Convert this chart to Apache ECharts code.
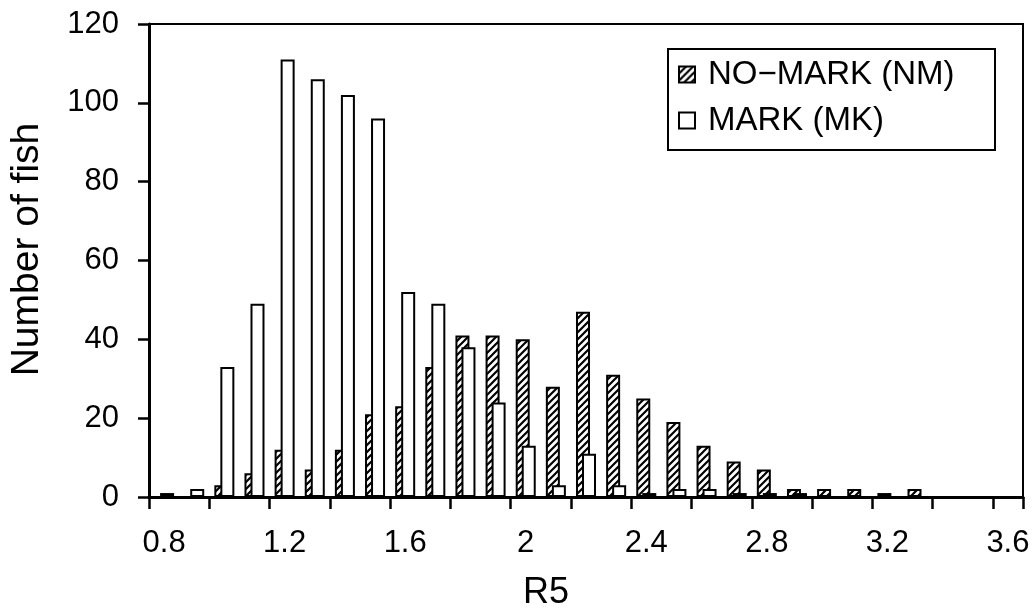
<!DOCTYPE html>
<html>
<head>
<meta charset="utf-8">
<script src="https://cdn.jsdelivr.net/npm/echarts@6/dist/echarts.min.js"></script>
<style>
html,body{margin:0;padding:0;background:#fff;}
#chart{width:1036px;height:616px;}
</style>
</head>
<body>
<div id="chart"></div>
<script>
// Bin labels (R5, bin width 0.1)
const categories = ['0.8','0.9','1','1.1','1.2','1.3','1.4','1.5','1.6','1.7','1.8','1.9','2','2.1','2.2','2.3','2.4','2.5','2.6','2.7','2.8','2.9','3','3.1','3.2','3.3','3.4','3.5','3.6'];
// NO-MARK (NM) counts
const nmValues = [0,0,3,6,12,7,12,21,23,33,41,41,40,28,47,31,25,19,13,9,7,2,2,2,1,2,0,0,0];
// MARK (MK) counts
const mkValues = [1,2,33,49,111,106,102,96,52,49,38,24,13,3,11,3,1,2,2,1,1,1,0,0,0,0,0,0,0];
const yTicks = [0,20,40,60,80,100,120];

const FONT = "'Liberation Sans', Arial, sans-serif";

// diagonal hatch pattern
const tile = document.createElement('canvas');
const s = 7;
tile.width = s; tile.height = s;
const c = tile.getContext('2d');
c.fillStyle = '#fff';
c.fillRect(0,0,s,s);
c.strokeStyle = '#000';
c.lineWidth = 2.2;
c.beginPath();
c.moveTo(-1, s+1); c.lineTo(s+1, -1);
c.moveTo(-1, 1); c.lineTo(1, -1);
c.moveTo(s-1, s+1); c.lineTo(s+1, s-1);
c.stroke();

const chart = echarts.init(document.getElementById('chart'), null, {renderer:'canvas'});
chart.setOption({
  animation: false,
  backgroundColor: '#fff',
  grid: {left:148, right:13, top:24, bottom:117, show:true, borderColor:'#000', borderWidth:2, backgroundColor:'transparent'},
  legend: {
    orient: 'vertical',
    left: 678, top: 58,
    icon: 'rect',
    itemWidth: 16, itemHeight: 16, itemGap: 13,
    padding: 0,
    textStyle: {fontFamily: FONT, fontSize: 33, color:'#000', lineHeight: 32, padding:[0,0,0,8]},
    data: ['NO\u2212MARK (NM)', 'MARK (MK)']
  },
  graphic: [{
    type:'rect', shape:{x:668, y:49, width:327, height:101},
    style:{fill:'none', stroke:'#000', lineWidth:2}, z: 100
  }],
  xAxis: {
    type:'category', data: categories, boundaryGap:true,
    name:'R5', nameLocation:'middle', nameGap:78,
    nameTextStyle:{fontFamily:FONT, fontSize:36, color:'#000', padding:[0,80,0,0]},
    axisLine:{show:true, lineStyle:{color:'#000', width:3}},
    axisTick:{show:true, interval:1, alignWithLabel:false, inside:false, length:12, lineStyle:{color:'#000', width:2.5}},
    axisLabel:{interval:3, margin:31, fontFamily:FONT, fontSize:31, color:'#000'},
    splitLine:{show:false}
  },
  yAxis: {
    type:'value', min: yTicks[0], max: yTicks[yTicks.length-1], interval: 20,
    name:'Number of fish', nameLocation:'middle', nameGap:102,
    nameTextStyle:{fontFamily:FONT, fontSize:39, color:'#000', padding:[0,0,0,22]},
    axisLine:{show:true, lineStyle:{color:'#000', width:3}},
    axisTick:{show:true, inside:false, length:11, lineStyle:{color:'#000', width:2.5}},
    axisLabel:{margin:30, fontFamily:FONT, fontSize:31, color:'#000'},
    splitLine:{show:false}
  },
  series: [
    {
      name:'NO\u2212MARK (NM)', type:'bar', data: nmValues,
      barWidth: 14, barGap: '-57%',
      itemStyle:{color:{image: tile, repeat:'repeat'}, borderColor:'#000', borderWidth:2}
    },
    {
      name:'MARK (MK)', type:'bar', data: mkValues,
      barWidth: 14, barGap: '-57%',
      itemStyle:{color:'#fff', borderColor:'#000', borderWidth:2}
    }
  ]
});
</script>
</body>
</html>
